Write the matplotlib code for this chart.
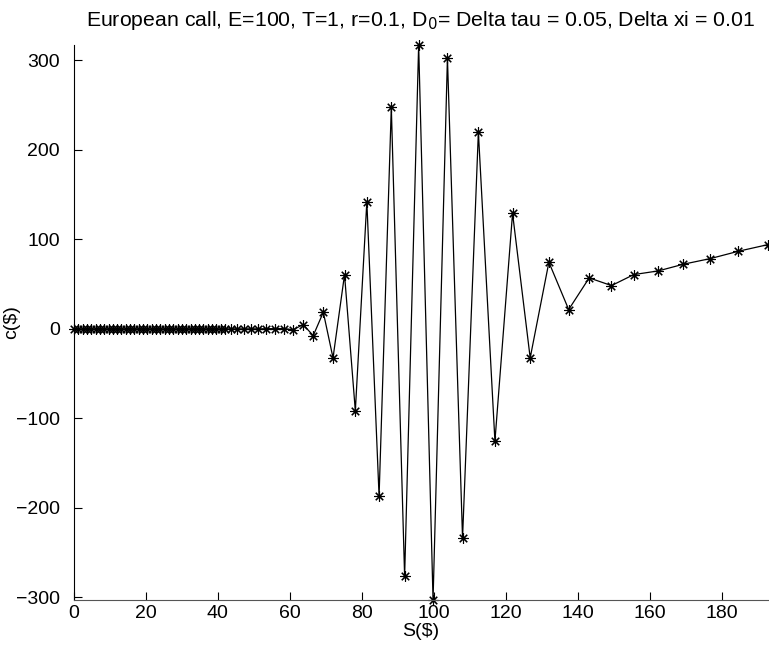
import numpy as np
import matplotlib
matplotlib.use("Agg")
import matplotlib.pyplot as plt

plt.rcParams['font.family'] = ['Liberation Sans', 'DejaVu Sans']

# asset prices on the grid
S = [0.0, 1.2, 2.4, 3.6, 4.8, 6.0, 7.2, 8.4, 9.6, 10.8, 12.0, 13.2, 14.4,
     15.6, 16.8, 18.0, 19.2, 20.4, 21.6, 22.8, 24.0, 25.2, 26.4, 27.6, 28.8,
     30.0, 31.2, 32.4, 33.6, 34.8, 36.0, 37.2, 38.4, 39.6, 40.8, 42.1, 43.6,
     45.4, 47.3, 49.2, 51.2, 53.5, 56.0, 58.4, 60.9, 63.7, 66.5, 69.3, 72.0,
     75.2, 78.2, 81.4, 84.8, 88.2, 91.9, 95.8, 99.8, 103.8, 108.0, 112.4,
     117.0, 121.9, 126.8, 132.0, 137.5, 143.2, 149.4, 155.6, 162.4, 169.4,
     176.9, 184.7, 192.9]

# option values from the explicit scheme (unstable)
c = [0.0] * 40 + [0.0, 0.2, 0.3, 0.4, -1.0, 4.8, -7.5, 18.6, -32.4,
     60.7, -91.6, 142.3, -187.0, 247.7, -276.7, 317.3, -303.0, 302.8,
     -233.9, 220.0, -125.5, 129.2, -32.4, 74.5, 21.6, 57.0, 48.4, 60.7,
     64.8, 72.3, 78.6, 86.8, 94.2]

fig = plt.figure(figsize=(7.69, 6.5), dpi=100)
ax = fig.add_axes([0.0962, 0.0769, 0.9025, 0.8539])

ax.plot(S, c, color='black', linewidth=0.9, marker=(8, 2, 0),
        markersize=7.5, markeredgewidth=0.8, clip_on=False)

ax.set_xlim(min(S), max(S))
ax.set_ylim(min(c), max(c))
ax.set_xticks(np.arange(0, 181, 20))
ax.set_yticks(np.arange(-300, 301, 100))
ax.set_yticklabels(['\u2212300', '\u2212200', '\u2212100', '0', '100', '200', '300'])

ax.spines['top'].set_visible(False)
ax.spines['right'].set_visible(False)
ax.spines['bottom'].set_color('#555555')
ax.tick_params(direction='in', length=6, labelsize=14, width=0.8)
ax.tick_params(axis='y', pad=10)

ax.set_title('European call, E=100, T=1, r=0.1, D$_0$= Delta tau = 0.05, Delta xi = 0.01',
             fontsize=15.3, pad=14)
ax.set_xlabel('S(\\$)', fontsize=14, labelpad=1)
ax.set_ylabel('c(\\$)', fontsize=14)
ax.yaxis.set_label_coords(-0.077, 0.5)

fig.savefig('out.png', dpi=100)
